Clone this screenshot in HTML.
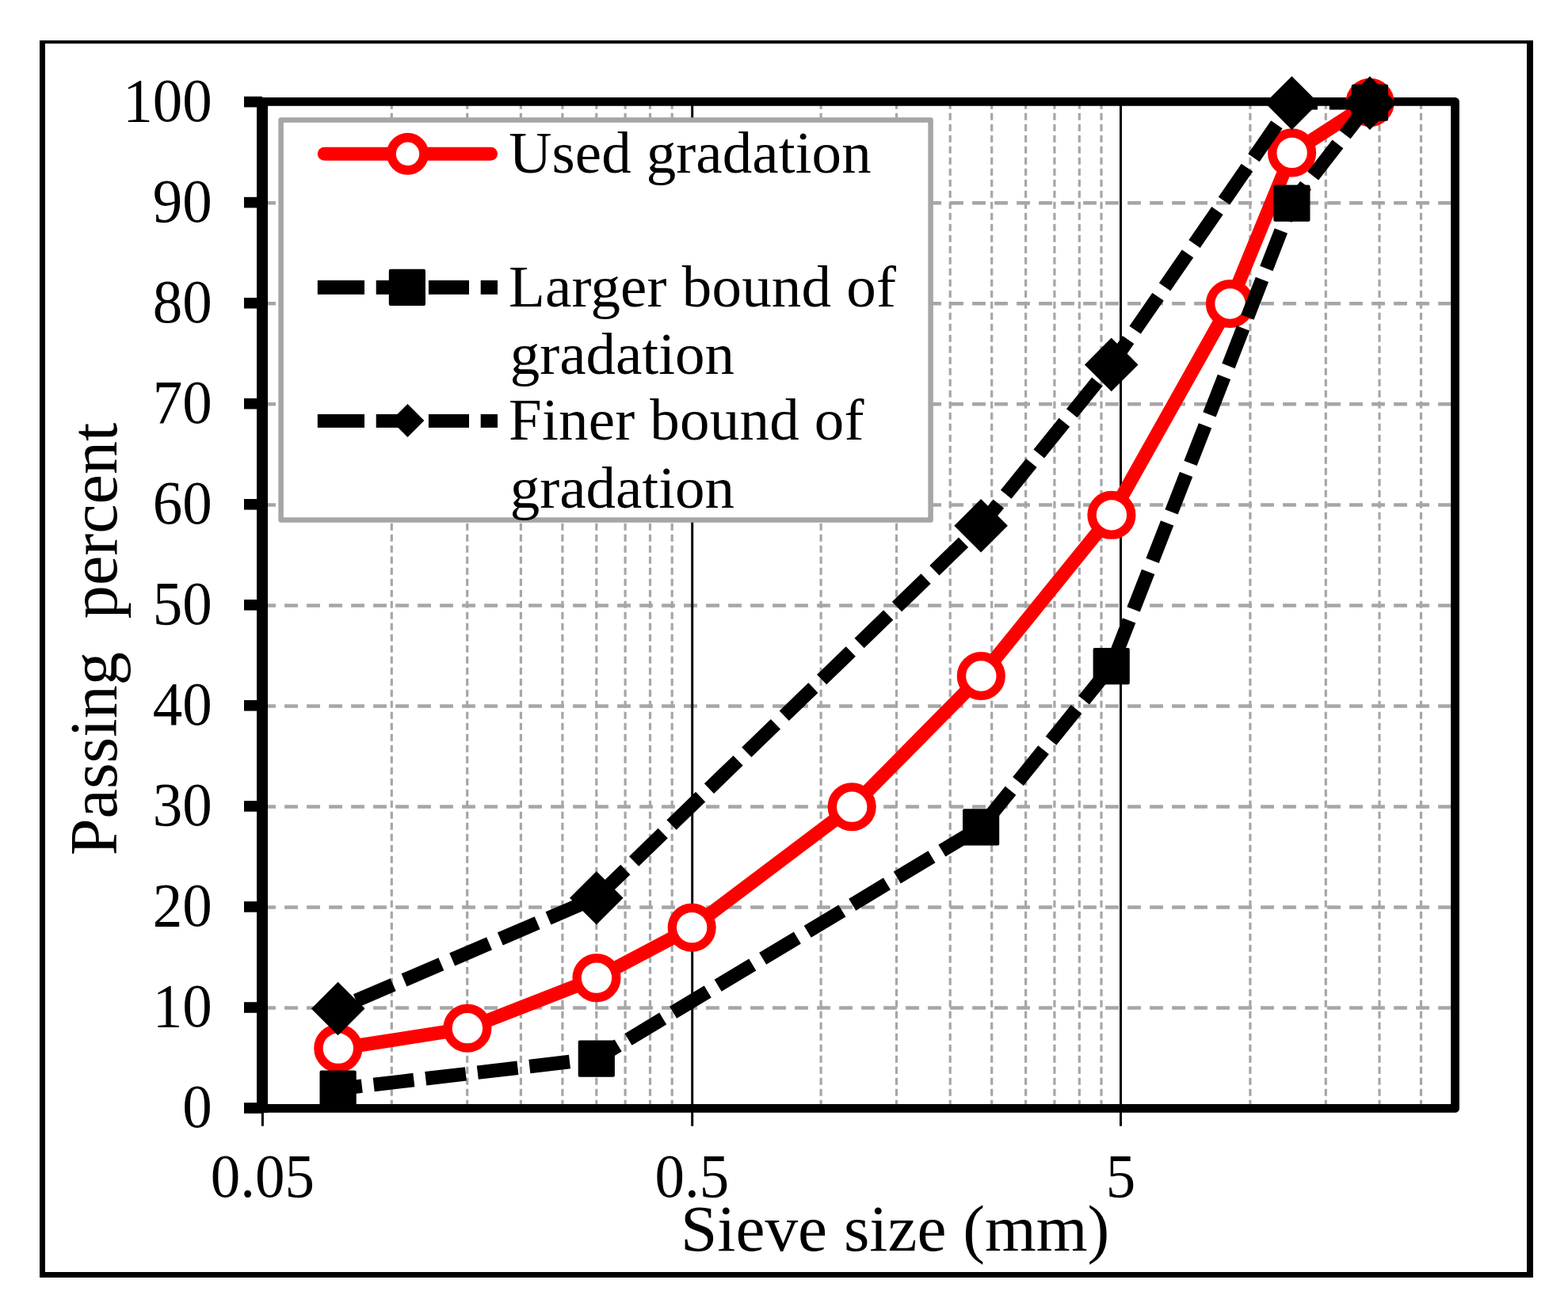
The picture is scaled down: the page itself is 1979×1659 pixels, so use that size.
<!DOCTYPE html>
<html lang="en"><head><meta charset="utf-8"><title>Gradation chart</title>
<style>html,body{margin:0;padding:0;background:#fff;overflow:hidden}svg{display:block}text{font-family:"Liberation Serif",serif;fill:#000;white-space:pre}</style></head><body>
<svg width="1979" height="1659" viewBox="0 0 1979 1659">
<rect width="1979" height="1659" fill="#fff"/>
<g fill="#000">
<rect x="50" y="51" width="1885" height="4"/>
<rect x="50" y="1606" width="1885" height="7"/>
<rect x="50" y="51" width="7" height="1562"/>
<rect x="1927" y="51" width="8" height="1562"/>
</g>
<g stroke="#a6a6a6" stroke-width="3.2" stroke-dasharray="8.9 5.1" fill="none">
<line x1="494.3" y1="128.75" x2="494.3" y2="1399.6"/>
<line x1="589.7" y1="128.75" x2="589.7" y2="1399.6"/>
<line x1="657.4" y1="128.75" x2="657.4" y2="1399.6"/>
<line x1="709.9" y1="128.75" x2="709.9" y2="1399.6"/>
<line x1="752.8" y1="128.75" x2="752.8" y2="1399.6"/>
<line x1="789.1" y1="128.75" x2="789.1" y2="1399.6"/>
<line x1="820.5" y1="128.75" x2="820.5" y2="1399.6"/>
<line x1="848.2" y1="128.75" x2="848.2" y2="1399.6"/>
<line x1="1036.1" y1="128.75" x2="1036.1" y2="1399.6"/>
<line x1="1131.5" y1="128.75" x2="1131.5" y2="1399.6"/>
<line x1="1199.2" y1="128.75" x2="1199.2" y2="1399.6"/>
<line x1="1251.7" y1="128.75" x2="1251.7" y2="1399.6"/>
<line x1="1294.6" y1="128.75" x2="1294.6" y2="1399.6"/>
<line x1="1330.9" y1="128.75" x2="1330.9" y2="1399.6"/>
<line x1="1362.3" y1="128.75" x2="1362.3" y2="1399.6"/>
<line x1="1390.0" y1="128.75" x2="1390.0" y2="1399.6"/>
<line x1="1577.9" y1="128.75" x2="1577.9" y2="1399.6"/>
<line x1="1673.3" y1="128.75" x2="1673.3" y2="1399.6"/>
<line x1="1741.0" y1="128.75" x2="1741.0" y2="1399.6"/>
<line x1="1793.5" y1="128.75" x2="1793.5" y2="1399.6"/>
</g>
<g stroke="#a6a6a6" stroke-width="4.5" stroke-dasharray="16.85 11.15" fill="none">
<line x1="331.1" y1="1272.6" x2="1836.5" y2="1272.6"/>
<line x1="331.1" y1="1145.5" x2="1836.5" y2="1145.5"/>
<line x1="331.1" y1="1018.5" x2="1836.5" y2="1018.5"/>
<line x1="331.1" y1="891.4" x2="1836.5" y2="891.4"/>
<line x1="331.1" y1="764.4" x2="1836.5" y2="764.4"/>
<line x1="331.1" y1="637.4" x2="1836.5" y2="637.4"/>
<line x1="331.1" y1="510.3" x2="1836.5" y2="510.3"/>
<line x1="331.1" y1="383.3" x2="1836.5" y2="383.3"/>
<line x1="331.1" y1="256.2" x2="1836.5" y2="256.2"/>
</g>
<g stroke="#000" stroke-width="3" fill="none">
<line x1="873.7" y1="129.2" x2="873.7" y2="1421.8"/>
<line x1="1414.5" y1="129.2" x2="1414.5" y2="1421.8"/>
<line x1="331.4" y1="1399.6" x2="331.4" y2="1421.7"/>
</g>
<path d="M331 128.4 H1836.5 V1399.4 H331" fill="none" stroke="#000" stroke-width="10.8" stroke-linejoin="round"/>
<line x1="331" y1="123.0" x2="331" y2="1404.8" stroke="#000" stroke-width="14"/>
<g stroke="#000" stroke-width="13.6">
<line x1="308" y1="1399.0" x2="331" y2="1399.0"/>
<line x1="308" y1="1272.0" x2="331" y2="1272.0"/>
<line x1="308" y1="1144.9" x2="331" y2="1144.9"/>
<line x1="308" y1="1017.9" x2="331" y2="1017.9"/>
<line x1="308" y1="890.8" x2="331" y2="890.8"/>
<line x1="308" y1="763.8" x2="331" y2="763.8"/>
<line x1="308" y1="636.8" x2="331" y2="636.8"/>
<line x1="308" y1="509.7" x2="331" y2="509.7"/>
<line x1="308" y1="382.7" x2="331" y2="382.7"/>
<line x1="308" y1="255.6" x2="331" y2="255.6"/>
<line x1="308" y1="128.6" x2="331" y2="128.6"/>
</g>
<clipPath id="pc"><rect x="331" y="128.4" width="1505.5" height="1271.0"/></clipPath>
<polyline clip-path="url(#pc)" points="1728.9,129.7 1630.4,193.2 1552.3,383.8 1402.7,650.6 1238.1,853.8 1075.0,1019.0 873.0,1171.4 752.8,1234.9 589.7,1298.5 426.6,1323.9" fill="none" stroke="#f00" stroke-width="17.3" stroke-linejoin="round" stroke-linecap="round"/>
<circle cx="426.8" cy="1323.6" r="24.85" fill="#fff" stroke="#f00" stroke-width="11.4"/>
<circle cx="589.9" cy="1298.2" r="24.85" fill="#fff" stroke="#f00" stroke-width="11.4"/>
<circle cx="753.0" cy="1234.6" r="24.85" fill="#fff" stroke="#f00" stroke-width="11.4"/>
<circle cx="873.2" cy="1171.1" r="24.85" fill="#fff" stroke="#f00" stroke-width="11.4"/>
<circle cx="1075.2" cy="1018.7" r="24.85" fill="#fff" stroke="#f00" stroke-width="11.4"/>
<circle cx="1238.3" cy="853.5" r="24.85" fill="#fff" stroke="#f00" stroke-width="11.4"/>
<circle cx="1402.9" cy="650.3" r="24.85" fill="#fff" stroke="#f00" stroke-width="11.4"/>
<circle cx="1552.5" cy="383.5" r="24.85" fill="#fff" stroke="#f00" stroke-width="11.4"/>
<circle cx="1630.6" cy="192.9" r="24.85" fill="#fff" stroke="#f00" stroke-width="11.4"/>
<circle cx="1729.1" cy="129.4" r="24.85" fill="#fff" stroke="#f00" stroke-width="11.4"/>
<polyline clip-path="url(#pc)" points="1728.9,129.7 1630.4,256.7 1402.7,841.1 1238.1,1044.4 752.8,1336.6 426.6,1374.7" fill="none" stroke="#000" stroke-width="17.5" stroke-dasharray="51 15" stroke-linejoin="round"/>
<rect x="403.5" y="1351.6" width="46.2" height="46.2" rx="2" fill="#000"/>
<rect x="729.7" y="1313.5" width="46.2" height="46.2" rx="2" fill="#000"/>
<rect x="1215.0" y="1021.3" width="46.2" height="46.2" rx="2" fill="#000"/>
<rect x="1379.6" y="818.0" width="46.2" height="46.2" rx="2" fill="#000"/>
<rect x="1607.3" y="233.6" width="46.2" height="46.2" rx="2" fill="#000"/>
<rect x="1705.8" y="106.6" width="46.2" height="46.2" rx="2" fill="#000"/>
<polyline clip-path="url(#pc)" points="1728.9,129.7 1630.4,129.7 1402.7,460.0 1238.1,663.3 752.8,1133.3 426.6,1273.1" fill="none" stroke="#000" stroke-width="17.5" stroke-dasharray="51 15" stroke-linejoin="round"/>
<path d="M392.8 1273.5 L426.6 1239.7 L460.4 1273.5 L426.6 1307.3 Z" fill="#000"/>
<path d="M719.0 1133.7 L752.8 1099.9 L786.6 1133.7 L752.8 1167.5 Z" fill="#000"/>
<path d="M1204.3 663.7 L1238.1 629.9 L1271.9 663.7 L1238.1 697.5 Z" fill="#000"/>
<path d="M1368.9 460.4 L1402.7 426.6 L1436.5 460.4 L1402.7 494.2 Z" fill="#000"/>
<path d="M1596.6 130.1 L1630.4 96.3 L1664.2 130.1 L1630.4 163.9 Z" fill="#000"/>
<path d="M1695.1 130.1 L1728.9 96.3 L1762.7 130.1 L1728.9 163.9 Z" fill="#000"/>
<rect x="354.6" y="151.6" width="820" height="504.9" fill="#fff" stroke="#a6a6a6" stroke-width="6.5" stroke-linejoin="round"/>
<line x1="409.3" y1="194.3" x2="619.5" y2="194.3" stroke="#f00" stroke-width="17" stroke-linecap="round"/>
<circle cx="514.5" cy="194.3" r="20.6" fill="#fff" stroke="#f00" stroke-width="11.8"/>
<g fill="#000"><rect x="400.8" y="353.95" width="59.2" height="17.8"/><rect x="474.7" y="353.95" width="40" height="17.8"/><rect x="540.9" y="353.95" width="51.1" height="17.8"/><rect x="606.7" y="353.95" width="21.3" height="17.8"/></g>
<g fill="#000"><rect x="400.8" y="522.95" width="59.2" height="17.0"/><rect x="474.7" y="522.95" width="40" height="17.0"/><rect x="540.9" y="522.95" width="51.1" height="17.0"/><rect x="606.7" y="522.95" width="21.3" height="17.0"/></g>
<rect x="490.8" y="339.8" width="46.2" height="46.2" rx="2" fill="#000"/>
<path d="M493.4 531 L514.4 510 L535.4 531 L514.4 552 Z" fill="#000"/>
<g font-size="75">
<text transform="translate(267.8 1422.7) scale(1 1.03)" text-anchor="end">0</text>
<text transform="translate(267.8 1295.8) scale(1 1.03)" text-anchor="end">10</text>
<text transform="translate(267.8 1168.8) scale(1 1.03)" text-anchor="end">20</text>
<text transform="translate(267.8 1041.8) scale(1 1.03)" text-anchor="end">30</text>
<text transform="translate(267.8 914.9) scale(1 1.03)" text-anchor="end">40</text>
<text transform="translate(267.8 788.0) scale(1 1.03)" text-anchor="end">50</text>
<text transform="translate(267.8 661.0) scale(1 1.03)" text-anchor="end">60</text>
<text transform="translate(267.8 534.1) scale(1 1.03)" text-anchor="end">70</text>
<text transform="translate(267.8 407.1) scale(1 1.03)" text-anchor="end">80</text>
<text transform="translate(267.8 280.2) scale(1 1.03)" text-anchor="end">90</text>
<text transform="translate(267.8 153.2) scale(1 1.03)" text-anchor="end">100</text>
<text transform="translate(331.3 1511.0) scale(1 1.03)" text-anchor="middle">0.05</text>
<text transform="translate(873.4 1511.0) scale(1 1.03)" text-anchor="middle">0.5</text>
<text transform="translate(1414.6 1511.0) scale(1 1.03)" text-anchor="middle">5</text>
<text x="642.3" y="217.7" letter-spacing="0.1">Used gradation</text>
<text x="642.1" y="386.6" letter-spacing="0.2">Larger bound of</text>
<text x="643.8" y="472.4">gradation</text>
<text x="642.1" y="555.3" letter-spacing="0.2">Finer bound of</text>
<text x="643.8" y="640.8">gradation</text>
</g>
<text x="859.0" y="1578.6" font-size="83.3">Sieve size (mm)</text>
<g font-size="84.1">
<text transform="translate(147.4 1080.2) rotate(-90)" x="0" y="0">Passing  percent</text>
</g>
</svg></body></html>
